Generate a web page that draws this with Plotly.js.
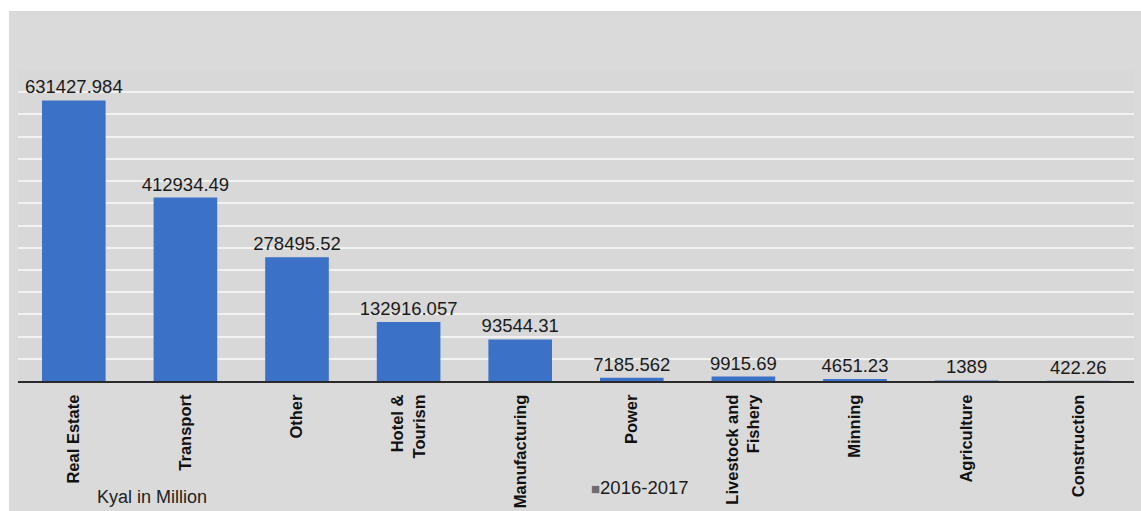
<!DOCTYPE html>
<html>
<head>
<meta charset="utf-8">
<script src="https://cdn.plot.ly/plotly-3.0.1.min.js"></script>
<style>html,body{margin:0;padding:0;background:#fff;}#chart{width:1141px;height:511px;}</style>
</head>
<body>
<div id="chart"></div>
<script>
var categories = ["Real Estate", "Transport", "Other", "Hotel &<br>Tourism", "Manufacturing", "Power", "Livestock and<br>Fishery", "Minning", "Agriculture", "Construction"];
var values = [631427.984, 412934.49, 278495.52, 132916.057, 93544.31, 7185.562, 9915.69, 4651.23, 1389, 422.26];
var valueLabels = ["631427.984", "412934.49", "278495.52", "132916.057", "93544.31", "7185.562", "9915.69", "4651.23", "1389", "422.26"];
var seriesName = "2016-2017";
var unitLabel = "Kyal in Million";

var trace = {
  type: "bar",
  x: categories,
  y: values,
  name: seriesName,
  text: valueLabels,
  texttemplate: "%{text}",
  textposition: "outside",
  constraintext: "none",
  cliponaxis: false,
  textfont: {family: "Liberation Sans, Arial, sans-serif", size: 18.5, color: "#1a1a1a"},
  marker: {color: "#3b71c7"},
  hoverinfo: "x+y"
};

var layout = {
  width: 1141,
  height: 511,
  margin: {l: 18, r: 7, t: 70, b: 130},
  paper_bgcolor: "#dadada",
  plot_bgcolor: "#d8d8d8",
  showlegend: false,
  bargap: 0.43,
  font: {family: "Liberation Sans, Arial, sans-serif", color: "#111"},
  xaxis: {
    type: "category",
    tickangle: -90,
    ticklen: 0,
    ticklabelstandoff: 5,
    tickfont: {family: "Liberation Sans, Arial, sans-serif", size: 16.5, color: "#111", weight: "bold"},
    showline: true,
    linecolor: "#2a2a2a",
    linewidth: 2,
    showgrid: false,
    automargin: false
  },
  yaxis: {
    range: [0, 700000],
    dtick: 50000,
    showticklabels: false,
    ticks: "",
    showgrid: true,
    gridcolor: "#f2f2f2",
    gridwidth: 2,
    zeroline: false,
    fixedrange: true
  },
  shapes: [
    {type: "rect", xref: "paper", yref: "paper", x0: -0.02, x1: 1.01, y0: 1.19, y1: 1.3, fillcolor: "#ffffff", line: {width: 0}, layer: "below"},
    {type: "rect", xref: "paper", yref: "paper", x0: -0.02, x1: -0.0081, y0: -0.5, y1: 1.3, fillcolor: "#ffffff", line: {width: 0}, layer: "below"}
  ],
  annotations: [
    {xref: "paper", yref: "paper", x: 0.12, y: -0.373, xanchor: "center", yanchor: "middle", showarrow: false,
     text: unitLabel, font: {size: 18, color: "#222"}},
    {xref: "paper", yref: "paper", x: 0.557, y: -0.341, xanchor: "center", yanchor: "middle", showarrow: false,
     text: "<span style='color:#6e6e6e;font-size:15px'>■</span>" + seriesName, font: {size: 18.5, color: "#1a1a1a"}}
  ]
};

Plotly.newPlot("chart", [trace], layout, {displayModeBar: false, staticPlot: true});
</script>
</body>
</html>
